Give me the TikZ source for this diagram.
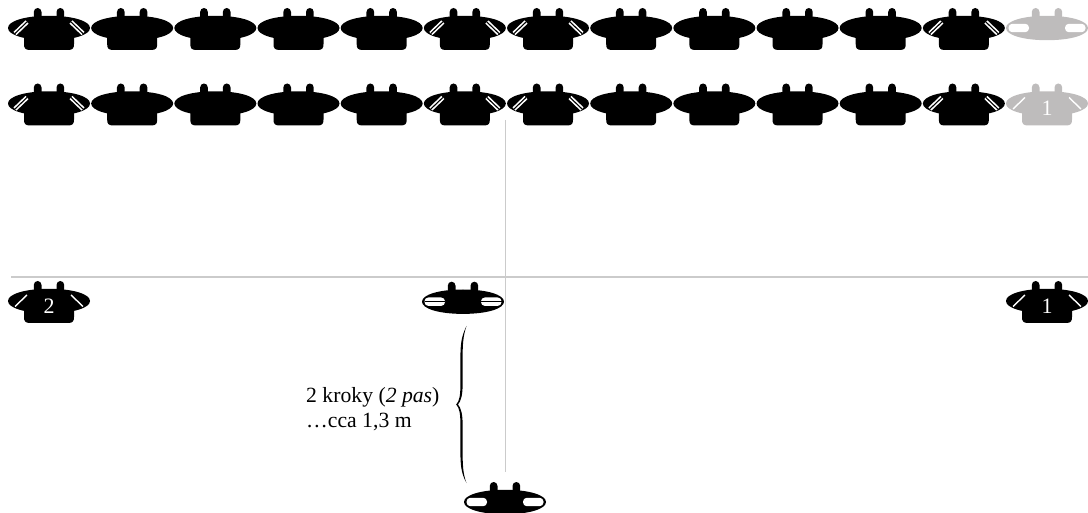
\documentclass[tikz,border=0pt]{standalone}
\usepackage{fontspec}
\setmainfont{Liberation Serif}
\definecolor{figgray}{HTML}{BEBCBC}
\definecolor{guide}{HTML}{CBCBCB}
\tikzset{
  x=1pt,y=-1pt,
  guideline/.style={draw=guide,line width=1.5pt},
  labeltext/.style={font=\fontsize{21.7}{24}\selectfont,inner sep=0pt,anchor=west},
  numtext/.style={font=\fontsize{22}{24}\selectfont,text=white,inner sep=0pt},
  pics/headtop/.style={code={
    \fill[#1] (-41,0) .. controls (-41,-7) and (-24,-12.2) .. (0,-12.2)
       .. controls (24,-12.2) and (41,-7) .. (41,0)
       .. controls (41,7) and (24,12.2) .. (0,12.2)
       .. controls (-24,12.2) and (-41,7) .. (-41,0) -- cycle;
    \foreach \c in {-11.35,11.35}
      \fill[#1] (\c-3.85,-9) -- (\c-3.85,-16) .. controls (\c-3.85,-18.3) and (\c-2.2,-20) .. (\c,-20)
        .. controls (\c+2.2,-20) and (\c+3.85,-18.3) .. (\c+3.85,-16) -- (\c+3.85,-9) -- cycle;
  }},
  pics/torso/.style={code={
    \pic {headtop=#1};
    \fill[#1] (-25,6) -- (-25,16) .. controls (-25,20) and (-24,22) .. (-19,22)
      -- (19,22) .. controls (24,22) and (25,20) .. (25,16) -- (25,6) -- cycle;
  }},
  pics/doubleslash/.style={code={
    \foreach \s in {-1,1}{
      \draw[white,line width=4.4pt] (\s*22,-6) -- (\s*34,5.5);
      \draw[#1,line width=1.1pt] (\s*22,-6) -- (\s*34,5.5);
    }
  }},
  pics/singleslash/.style={code={
    \foreach \s in {-1,1}
      \draw[white,line width=1.4pt] (\s*22,-6) -- (\s*34,5.5);
  }},
  pics/bars/.style={code={
    \foreach \s in {-1,1}
      \fill[white,rounded corners=3.8pt] (\s*18,-4.2) rectangle (\s*38.5,4.2);
  }},
  pics/linedbars/.style={code={
    \pic {bars};
    \foreach \s in {-1,1}
      \draw[black,line width=1.1pt] (\s*18,0) -- (\s*38.5,0);
  }},
}
\begin{document}
\begin{tikzpicture}
\useasboundingbox (0,0) rectangle (1088,513);
\clip (0,0) rectangle (1088,513);
% guides
\coordinate (hl) at (11,277); \coordinate (hr) at (1088,277);
\coordinate (vt) at (505.5,120); \coordinate (vb) at (505.5,472);
\draw[guideline] (hl) -- (hr);
\draw[guideline] (vt) -- (vb);
% rows of figures
\foreach \yy in {28,103.5}{
  \foreach \i in {0,...,11}{
    \pgfmathsetmacro{\xx}{49+83.17*\i}
    \pic at (\xx,\yy) {torso=black};
  }
  \foreach \i in {0,5,6,11}{
    \pgfmathsetmacro{\xx}{49+83.17*\i}
    \pic at (\xx,\yy) {doubleslash=black};
  }
}
% grey figures
\pic at (1047,28) {headtop=figgray};
\pic at (1047,28) {bars};
\pic at (1047,103.5) {torso=figgray};
\pic at (1047,103.5) {singleslash};
\node[numtext] (gone) at (1047,108) {1};
% line-up figures
\pic at (49,301) {torso=black};
\pic at (49,301) {singleslash};
\node[numtext] (ntwo) at (49,306) {2};
\pic at (1047,301) {torso=black};
\pic at (1047,301) {singleslash};
\node[numtext] (none) at (1047,306) {1};
\pic at (463,301.7) {headtop=black};
\pic at (463,301.7) {linedbars};
\pic at (505,502) {headtop=black};
\pic at (505,502) {bars};
% brace
\fill (466.5,326) .. controls (461,337) and (460.4,345) .. (460.4,360)
  -- (460.4,385) .. controls (460.4,395) and (459.5,401) .. (456.2,404.5)
  .. controls (459.5,408) and (460.4,414) .. (460.4,424)
  -- (460.4,450) .. controls (460.4,465) and (461,473) .. (466.5,483)
  .. controls (463,474) and (462.6,465) .. (462.6,450)
  -- (462.6,424) .. controls (462.6,414) and (461,408) .. (458,404.5)
  .. controls (461,401) and (462.6,395) .. (462.6,385)
  -- (462.6,360) .. controls (462.6,345) and (463,336) .. (466.5,326) -- cycle;
% label
\node[labeltext] (lab1) at (306,397.5) {2 kroky (\textit{2 pas})};
\node[labeltext] (lab2) at (306,421.5) {…cca 1,3 m};
\end{tikzpicture}
\end{document}
